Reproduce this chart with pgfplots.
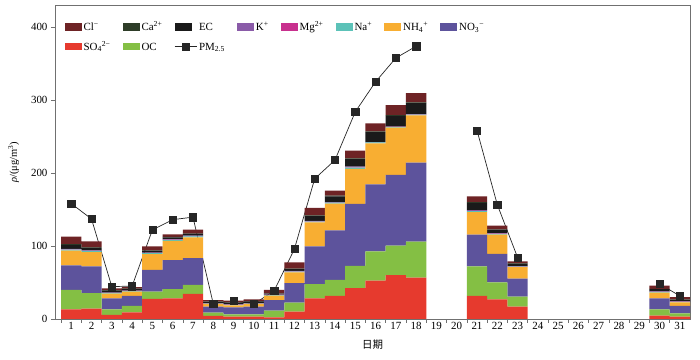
\documentclass[border=0pt]{standalone}
\usepackage{fontspec}
\setmainfont{Liberation Serif}
\newfontfamily\cjk{Noto Sans CJK SC}
\usepackage{pgfplots}
\pgfplotsset{compat=1.18}
\usepackage{pgfplotstable}

\definecolor{clc}{HTML}{6E2325}
\definecolor{cac}{HTML}{2E3D28}
\definecolor{ecc}{HTML}{1A1A1A}
\definecolor{kc}{HTML}{8A5BA8}
\definecolor{mgc}{HTML}{C8308E}
\definecolor{nac}{HTML}{5CC2B8}
\definecolor{nhc}{HTML}{F8AE32}
\definecolor{noc}{HTML}{5D539C}
\definecolor{soc}{HTML}{E63A2E}
\definecolor{occ}{HTML}{84BF44}
\definecolor{axc}{HTML}{707070}

\newcommand\ls{\vphantom{NH\textsubscript{4}\textsuperscript{2+}}}

\pgfplotstableread{
day SO4 OC NO3 NH4 Na Mg K EC Ca Cl PM
1 13.3 26.6 33.4 20.2 1.5 0.3 0.8 5.5 0.8 10.5 158
2 14.2 21.1 36.7 19.6 1.2 0.3 0.7 3.6 0.8 8.2 137
3 5.5 7.8 15.1 6.4 0.8 0.2 0.4 2.8 0.4 2.6 44.4
4 9.2 8.7 13.7 6.0 0.6 0.2 0.4 2.4 0.3 2.0 45
5 27.5 10.1 29.8 21.5 1.2 0.3 0.6 2.5 0.5 5.5 122
6 28.4 12.4 39.8 26.4 1.3 0.3 0.7 2.5 0.6 3.6 136
7 34.4 12.3 36.7 28.4 1.2 0.3 0.7 2.4 0.6 5.5 139.5
8 4.1 4.6 8.3 3.6 0.6 0.2 0.3 2.0 0.3 2.0 21
9 3.2 3.2 9.6 2.8 0.6 0.2 0.3 2.5 0.3 2.5 24.7
10 3.2 3.2 10.4 3.8 0.6 0.2 0.3 2.5 0.3 2.5 20.6
11 2.3 9.2 14.5 6.0 0.8 0.2 0.4 1.5 0.3 4.6 38.5
12 10.0 12.4 26.6 14.7 1.2 0.3 0.6 2.5 0.6 8.5 95.8
13 28.4 19.2 51.8 33.0 1.1 0.3 0.4 6.8 0.8 10.3 192
14 31.6 22.0 67.8 36.6 1.2 0.3 0.5 8.0 0.8 7.0 217.6
15 42.2 30.6 84.8 48.1 1.5 0.4 1.0 10.4 1.0 10.5 283.6
16 52.7 39.9 91.6 56.3 1.2 0.3 0.3 13.7 1.0 11.0 324.8
17 60.0 40.3 97.2 64.5 1.0 0.3 0.3 14.4 1.2 13.6 357.4
18 56.8 49.0 108.2 65.0 1.0 0.2 0.3 15.0 1.3 12.5 373.5
19 0 0 0 0 0 0 0 0 0 0 nan
20 0 0 0 0 0 0 0 0 0 0 nan
21 31.6 40.4 43.5 30.7 1.5 0.4 1.0 10.0 0.9 8.0 258.4
22 27.0 23.0 39.3 26.2 1.2 0.3 0.7 4.6 0.5 5.0 156.7
23 17.0 13.7 24.7 15.6 0.8 0.2 0.5 3.1 0.4 2.8 84.3
24 0 0 0 0 0 0 0 0 0 0 nan
25 0 0 0 0 0 0 0 0 0 0 nan
26 0 0 0 0 0 0 0 0 0 0 nan
27 0 0 0 0 0 0 0 0 0 0 nan
28 0 0 0 0 0 0 0 0 0 0 nan
29 0 0 0 0 0 0 0 0 0 0 nan
30 4.6 8.7 15.1 7.8 0.9 0.2 0.5 3.2 0.4 4.4 48
31 3.2 4.6 10.1 5.0 0.6 0.2 0.4 2.3 0.3 3.1 31.6
}\data

\pgfplotsset{
  boxleg/.style={legend image code/.code={\path[##1, draw=none] (0bp,-3.8bp) rectangle (17bp,3.8bp);}},
  lineleg/.style={legend image code/.code={\draw[##1, mark repeat=2, mark phase=2] plot coordinates {(0bp,0bp) (11bp,0bp) (22bp,0bp)};}},
}

\begin{document}
\begin{tikzpicture}
\begin{axis}[
  name=ax,
  scale only axis, width=635bp, height=314bp,
  xmin=0.2, xmax=31.5, ymin=0, ymax=430,
  enlargelimits=false,
  ybar stacked, bar width=1,
  xtick={0.5,1.5,...,30.5}, xticklabels={},
  extra x ticks={1,...,31},
  extra x tick style={major tick length=0pt},
  ytick={0,100,...,400},
  tick align=outside, tick pos=left,
  major tick length=4bp,
  axis line style={axc, line width=0.8pt},
  every tick/.style={axc, line width=0.6pt},
  tick label style={font=\fontsize{11}{12}\selectfont},
  /pgf/number format/assume math mode=true,
  xlabel={\cjk\fontsize{10.5}{12}\selectfont 日期},
  ylabel={\fontsize{10.5}{12}\selectfont\textit{ρ}/(μg/m\textsuperscript{3})},
  xlabel style={at={(axis description cs:0.5,-0.083)}, anchor=center},
  ylabel style={at={(axis description cs:-0.065,0.5)}, anchor=center},
  legend columns=8,
  legend cell align=left,
  legend style={at={(0.01,0.96)}, anchor=north west, draw=none, fill=none,
    font=\fontsize{11}{12}\selectfont,
    /tikz/every even column/.append style={column sep=10bp},
    row sep=5bp},
]
\addlegendimage{boxleg, fill=clc}
\addlegendentry{\ls Cl\textsuperscript{−}}
\addlegendimage{boxleg, fill=cac}
\addlegendentry{\ls Ca\textsuperscript{2+}}
\addlegendimage{boxleg, fill=ecc}
\addlegendentry{\ls EC}
\addlegendimage{boxleg, fill=kc}
\addlegendentry{\ls K\textsuperscript{+}}
\addlegendimage{boxleg, fill=mgc}
\addlegendentry{\ls Mg\textsuperscript{2+}}
\addlegendimage{boxleg, fill=nac}
\addlegendentry{\ls Na\textsuperscript{+}}
\addlegendimage{boxleg, fill=nhc}
\addlegendentry{\ls NH\textsubscript{4}\textsuperscript{+}}
\addlegendimage{boxleg, fill=noc}
\addlegendentry{\ls NO\textsubscript{3}\textsuperscript{−}}
\addlegendimage{boxleg, fill=soc}
\addlegendentry{\ls SO\textsubscript{4}\textsuperscript{2−}}
\addlegendimage{boxleg, fill=occ}
\addlegendentry{\ls OC}

\addplot[fill=soc, draw=none, forget plot] table[x=day, y=SO4]{\data};
\addplot[fill=occ, draw=none, forget plot] table[x=day, y=OC]{\data};
\addplot[fill=noc, draw=none, forget plot] table[x=day, y=NO3]{\data};
\addplot[fill=nhc, draw=none, forget plot] table[x=day, y=NH4]{\data};
\addplot[fill=nac, draw=none, forget plot] table[x=day, y=Na]{\data};
\addplot[fill=mgc, draw=none, forget plot] table[x=day, y=Mg]{\data};
\addplot[fill=kc, draw=none, forget plot] table[x=day, y=K]{\data};
\addplot[fill=ecc, draw=none, forget plot] table[x=day, y=EC]{\data};
\addplot[fill=cac, draw=none, forget plot] table[x=day, y=Ca]{\data};
\addplot[fill=clc, draw=none, forget plot] table[x=day, y=Cl]{\data};

\addplot[stack plots=false, sharp plot, unbounded coords=jump,
  color=black!85, line width=0.7pt, mark=square*, mark size=3.6bp,
  mark options={fill=black!85, solid, line width=0.4pt}, lineleg
  ] table[x=day, y=PM]{\data};
\addlegendentry{\ls PM\textsubscript{2.5}}
\end{axis}
\pgfresetboundingbox
\path[use as bounding box] ([shift={(-55bp,-41bp)}]ax.south west) rectangle ([shift={(10bp,5bp)}]ax.north east);
\end{tikzpicture}
\end{document}
